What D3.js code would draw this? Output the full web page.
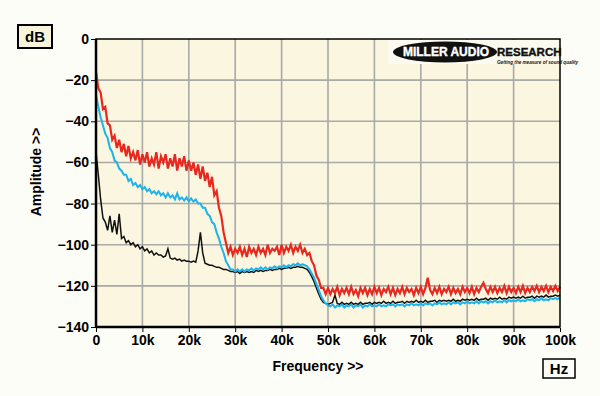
<!DOCTYPE html>
<meta charset="utf-8">
<title>Spectrum</title>
<style>
body { margin: 0; background: #fdfdf8; }
text { font-family: "Liberation Sans", Arial, sans-serif; font-weight: bold; }
</style>
<svg></svg>
<script src="https://cdn.jsdelivr.net/npm/d3@7"></script>
<script>
// FFT bins every 500 Hz, 0..100k
var binHz = 500;
var xTicks = [0, 10000, 20000, 30000, 40000, 50000, 60000, 70000, 80000, 90000, 100000];
var yTicks = [-140, -120, -100, -80, -60, -40, -20, 0];

var red = [-16,-24,-26,-34,-33,-41,-42,-49,-47,-53,
  -49,-55,-51,-57,-52,-58,-55,-59,-54,-61,
  -56,-60,-55,-62,-58,-61,-55,-63,-57,-60,
  -56,-63,-58,-62,-56,-64,-58,-62,-57,-64,
  -59,-64,-60,-66,-61,-68,-62,-69,-65,-72,
  -67,-76,-74,-82,-86,-94,-99,-104,-101,-105,
  -102,-104,-101,-105,-102,-106,-101,-104,-102,-105,
  -101,-104,-102,-105,-100,-104,-102,-103,-101,-105,
  -100,-104,-101,-103,-100,-104,-101,-103,-100,-104,
  -102,-105,-104,-108,-110,-115,-117,-121,-121,-124,
  -121,-124,-121.5,-123.5,-120.5,-124.5,-121.5,-123.5,-121,-124,
  -120.5,-124,-122,-125,-121,-123.5,-121,-124.5,-121.5,-124,
  -120.5,-123.5,-121,-124.5,-121.5,-123,-120.5,-124,-121,-124.5,
  -121.5,-123.5,-120.5,-124,-121,-123,-121.5,-124.5,-121,-123.5,
  -120.5,-124,-121,-116,-122,-124,-121,-123.5,-120.5,-124,
  -121.5,-123,-120.5,-124,-121,-123.5,-121.5,-124,-120.5,-123,
  -121,-123.5,-120.5,-124,-121,-123,-120.5,-118.5,-121.5,-123.5,
  -120.5,-123,-120.5,-123.5,-121,-123,-120,-123.5,-120.5,-123,
  -121,-123.5,-120.5,-123,-120,-123.5,-121,-123,-120.5,-122.5,
  -120,-123,-120.5,-122.5,-120,-123,-120.5,-122.5,-120,-122.5,
  -120.5];

var blue = [-27,-33,-38,-42,-46,-48,-53,-55,-59,-60,
  -63,-64,-66,-66,-69,-68,-71,-70,-72,-71,
  -73,-72,-74,-73,-75,-74,-75.5,-74,-76,-75,
  -77,-75,-77,-76,-78,-75,-78,-77,-78.5,-77,
  -79,-77.5,-79,-78,-80,-80,-82,-82,-85,-86,
  -89,-90,-94,-97,-101,-104,-108,-110,-112,-112,
  -113,-112,-113,-112,-113,-112,-112.5,-111.5,-112.5,-111.5,
  -112,-111,-112,-111,-112,-111,-111.5,-110.5,-111.5,-110.5,
  -111,-110,-111,-110,-110.5,-109.5,-110,-109,-110,-109.5,
  -110,-110.5,-112,-114,-116,-119,-122,-125,-127,-128.5,
  -129.5,-130,-129,-130.5,-129.5,-130,-129,-130.5,-129.5,-130,
  -129,-130.5,-129.5,-130,-129,-130.5,-129.5,-130,-129,-130,
  -129.5,-130,-129,-130,-129.5,-130,-129,-129.5,-129,-130,
  -129,-129.5,-129,-130,-129,-129.5,-128.5,-129.5,-129,-129.5,
  -128.5,-129.5,-128.5,-129,-128.5,-129.5,-128.5,-129,-128,-129,
  -128.5,-129,-128,-129,-128,-128.5,-128,-129,-128,-128.5,
  -127.5,-128.5,-128,-128.5,-127.5,-128.5,-127.5,-128,-127.5,-128.5,
  -127.5,-128,-127,-128,-127.5,-128,-127,-128,-127,-127.5,
  -127,-127.5,-126.5,-127.5,-127,-127.5,-126.5,-127,-126.5,-127.5,
  -126.5,-127,-126,-127,-126.5,-127,-126,-126.5,-126,-126.5,
  -125.5];

var black = [-55,-66,-78,-87,-89,-93,-86,-94,-88,-95,
  -85,-97,-96,-99,-98,-100,-99,-101,-100,-102,
  -101,-103,-102,-104,-103,-105,-104,-105,-105,-106,
  -105.5,-102,-106.5,-107,-106.5,-107.5,-107,-108,-107.5,-108,
  -108,-108.5,-108,-108.5,-103,-94,-104,-109,-109.5,-110,
  -110,-110.5,-111,-111,-111.5,-112,-112,-112.5,-113,-113,
  -113.5,-113,-114,-113,-113.5,-113,-113.5,-113,-113.5,-112.5,
  -113,-112.5,-113,-112.5,-112.5,-112,-112.5,-112,-112,-111.5,
  -112,-111.5,-111.5,-111,-111.5,-111,-111,-110.5,-111,-111,
  -111.5,-112,-113.5,-115.5,-118,-121,-124,-126.5,-128,-128.5,
  -129,-128.5,-128,-124.5,-128.5,-129,-128,-129,-128.5,-129,
  -128,-129,-128.5,-129,-128,-129,-128.5,-128.5,-128,-129,
  -128,-128.5,-128,-128.5,-127.5,-128.5,-128,-128.5,-127.5,-128.5,
  -128,-128,-127.5,-128.5,-127.5,-128,-127.5,-128,-127,-128,
  -127.5,-128,-127,-128,-127.5,-127.5,-127,-128,-127,-127.5,
  -127,-127.5,-127,-127.5,-126.5,-127.5,-127,-127.5,-126.5,-127,
  -126.5,-127,-126.5,-127,-126,-127,-126.5,-126.5,-126,-127,
  -126,-126.5,-126,-126.5,-125.5,-126.5,-126,-126.5,-125.5,-126,
  -125.5,-126,-125.5,-126,-125,-126,-125.5,-125.5,-125,-126,
  -125,-125.5,-125,-125.5,-124.5,-125.5,-125,-125,-124.5,-125,
  -124.5];

var width = 600, height = 396;
var svg = d3.select("svg").attr("width", width).attr("height", height);

var x = d3.scaleLinear().domain([0, 100000]).range([96, 560]);
var y = d3.scaleLinear().domain([-140, 0]).range([327, 39]);

// plot background
svg.append("rect")
    .attr("x", x(0)).attr("y", y(0))
    .attr("width", x(100000) - x(0)).attr("height", y(-140) - y(0))
    .style("fill", "#faf6df");

// grid
svg.append("g").selectAll("line")
    .data(xTicks.slice(1, -1))
  .enter().append("line")
    .attr("x1", function(d) { return x(d); }).attr("x2", function(d) { return x(d); })
    .attr("y1", y(0)).attr("y2", y(-140))
    .style("stroke", "#a9a9a6").style("stroke-width", 1.6);
svg.append("g").selectAll("line")
    .data(yTicks.slice(1, -1))
  .enter().append("line")
    .attr("x1", x(0)).attr("x2", x(100000))
    .attr("y1", function(d) { return y(d); }).attr("y2", function(d) { return y(d); })
    .style("stroke", "#a9a9a6").style("stroke-width", 1.6);

// light patch behind logo
svg.append("rect")
    .attr("x", 388).attr("y", y(0) + 1)
    .attr("width", x(100000) - 388 - 1).attr("height", 24)
    .style("fill", "#fdfbef");

// traces
var line = d3.line()
    .x(function(d, i) { return x(i * binHz); })
    .y(function(d) { return y(d); });

svg.append("path").datum(black).attr("d", line)
    .style("fill", "none").style("stroke", "#111").style("stroke-width", 1.5);
svg.append("path").datum(blue).attr("d", line)
    .style("fill", "none").style("stroke", "#1cb4ea").style("stroke-width", 2);
svg.append("path").datum(red).attr("d", line)
    .style("fill", "none").style("stroke", "#e8281e").style("stroke-width", 2.2);

// frame
svg.append("rect")
    .attr("x", x(0)).attr("y", y(0))
    .attr("width", x(100000) - x(0)).attr("height", y(-140) - y(0))
    .style("fill", "none").style("stroke", "#000").style("stroke-width", 1.5);
svg.append("line")
    .attr("x1", x(0)).attr("x2", x(0)).attr("y1", y(0)).attr("y2", y(-140) + 1)
    .style("stroke", "#000").style("stroke-width", 2.5);
svg.append("line")
    .attr("x1", x(0)).attr("x2", x(100000)).attr("y1", y(-140)).attr("y2", y(-140))
    .style("stroke", "#000").style("stroke-width", 2.5);

// axes
var yAxis = d3.axisLeft(y).tickValues(yTicks).tickSize(4).tickPadding(2)
    .tickFormat(d3.format("d"));
var gy = svg.append("g").attr("transform", "translate(" + (x(0) - 1) + ",0)").call(yAxis);
gy.select(".domain").remove();
gy.selectAll("text").style("font-size", "14px").style("font-family", "Liberation Sans, Arial, sans-serif")
    .style("font-weight", "bold").style("fill", "#000");

var xAxis = d3.axisBottom(x).tickValues(xTicks).tickSize(4).tickPadding(3)
    .tickFormat(function(d) { return d === 0 ? "0" : (d / 1000) + "k"; });
var gx = svg.append("g").attr("transform", "translate(0," + (y(-140) + 1) + ")").call(xAxis);
gx.select(".domain").remove();
gx.selectAll("text").style("font-size", "14px").style("font-family", "Liberation Sans, Arial, sans-serif")
    .style("font-weight", "bold").style("fill", "#000");

// axis titles
svg.append("text").attr("x", 318).attr("y", 371).attr("text-anchor", "middle")
    .style("font-size", "14px").text("Frequency >>");
svg.append("text").attr("transform", "translate(41,172) rotate(-90)").attr("text-anchor", "middle")
    .style("font-size", "14px").text("Amplitude >>");

// unit boxes
svg.append("rect").attr("x", 18).attr("y", 25).attr("width", 34).attr("height", 23)
    .style("fill", "#f8f4dc").style("stroke", "#000").style("stroke-width", 2);
svg.append("text").attr("x", 35).attr("y", 42).attr("text-anchor", "middle")
    .style("font-size", "15px").text("dB");
svg.append("rect").attr("x", 543).attr("y", 359).attr("width", 32).attr("height", 19)
    .style("fill", "#fdfdf8").style("stroke", "#000").style("stroke-width", 1.5);
svg.append("text").attr("x", 559).attr("y", 374).attr("text-anchor", "middle")
    .style("font-size", "15px").text("Hz");

// logo
svg.append("ellipse").attr("cx", 445).attr("cy", 52).attr("rx", 52).attr("ry", 10.5)
    .style("fill", "#111");
svg.append("text").attr("x", 446).attr("y", 56).attr("text-anchor", "middle")
    .style("font-size", "12px").style("fill", "#fff").style("stroke", "#fff").style("stroke-width", 0.4)
    .text("MILLER AUDIO");
svg.append("text").attr("x", 497).attr("y", 56)
    .style("font-size", "11.5px").style("fill", "#111").style("stroke", "#111").style("stroke-width", 0.4)
    .text("RESEARCH");
svg.append("text").attr("x", 497).attr("y", 63.5)
    .style("font-size", "4.6px").style("font-style", "italic").style("fill", "#111")
    .text("Getting the measure of sound quality");
</script>
